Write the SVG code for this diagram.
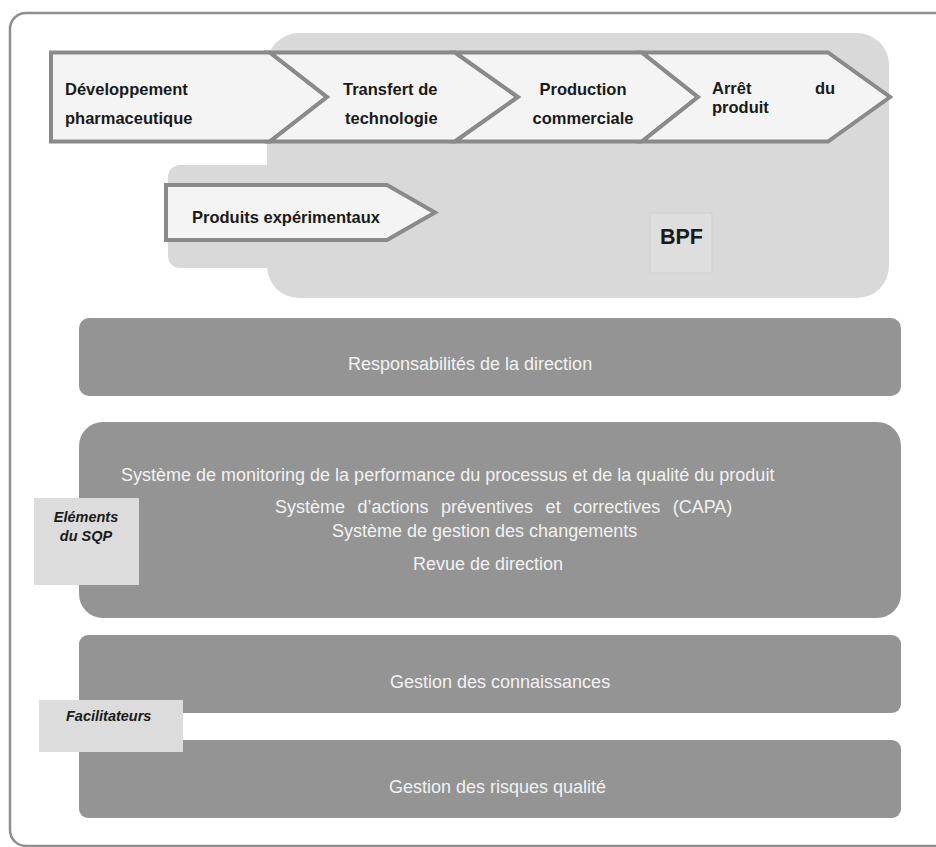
<svg xmlns="http://www.w3.org/2000/svg" width="936" height="847" viewBox="0 0 936 847">
<style>
.frame{fill:#ffffff;stroke:#8e8e8e;stroke-width:2.5}
.zone{fill:#d9d9d9}
.chev{fill:#f4f4f4;stroke:#8a8a8a;stroke-width:4;stroke-linejoin:miter}
.bar{fill:#949494}
.tag{fill:#dcdcdc}
.bt{font-family:"Liberation Sans",Arial,sans-serif;font-weight:bold;font-size:16.5px;fill:#1a1a1a}
.wt{font-family:"Liberation Sans",Arial,sans-serif;font-size:18px;fill:#f2f2f2}
.it{font-family:"Liberation Sans",Arial,sans-serif;font-weight:bold;font-style:italic;font-size:14.5px;fill:#1a1a1a}
</style>
<rect class="frame" x="10" y="13" width="960" height="833" rx="16"/>
<g id="bpf-zone">
<rect class="zone" x="168" y="165" width="160" height="103" rx="12"/>
<rect class="zone" x="267" y="33" width="622" height="265" rx="32"/>
<rect x="650" y="213" width="62" height="60" fill="#dedede" stroke="#cfcfcf" stroke-width="1"/>
<text class="bt" x="660" y="244" style="font-size:21.5px">BPF</text>
</g>
<g id="dev">
<polygon class="chev" points="51,52.5 270,52.5 327,97 270,141.5 51,141.5"/>
<text class="bt" x="65" y="95">Développement</text>
<text class="bt" x="65" y="124">pharmaceutique</text>
</g>
<g id="transfert">
<polygon class="chev" points="270,52.5 455,52.5 518,97 455,141.5 270,141.5 327,97"/>
<text class="bt" x="343" y="95">Transfert de</text>
<text class="bt" x="345" y="124">technologie</text>
</g>
<g id="production">
<polygon class="chev" points="455,52.5 642,52.5 698,97 642,141.5 455,141.5 518,97"/>
<text class="bt" x="583" y="95" text-anchor="middle">Production</text>
<text class="bt" x="583" y="124" text-anchor="middle">commerciale</text>
</g>
<g id="arret">
<polygon class="chev" points="642,52.5 828,52.5 890,97 828,141.5 642,141.5 698,97"/>
<text class="bt" x="712" y="93.5">Arrêt</text>
<text class="bt" x="815" y="93.5">du</text>
<text class="bt" x="712" y="112.5">produit</text>
</g>
<g id="experimentaux">
<polygon class="chev" points="166,185 387,185 435,212.5 387,240 166,240"/>
<text class="bt" x="192" y="223">Produits expérimentaux</text>
</g>
<g id="responsabilites">
<rect class="bar" x="79" y="318" width="822" height="78" rx="10"/>
<text class="wt" x="348" y="370">Responsabilités de la direction</text>
</g>
<g id="elements">
<rect class="bar" x="79" y="422" width="822" height="196" rx="24"/>
<text class="wt" x="121" y="481">Système de monitoring de la performance du processus et de la qualité du produit</text>
<text class="wt" x="275" y="513" word-spacing="7.5">Système d’actions préventives et correctives (CAPA)</text>
<text class="wt" x="332" y="537">Système de gestion des changements</text>
<text class="wt" x="413" y="570">Revue de direction</text>
</g>
<g id="sqp-label">
<rect class="tag" x="34" y="498" width="105" height="87"/>
<text class="it" x="86" y="522" text-anchor="middle">Eléments</text>
<text class="it" x="86" y="541" text-anchor="middle">du SQP</text>
</g>
<g id="connaissances">
<rect class="bar" x="79" y="635" width="822" height="78" rx="9"/>
<text class="wt" x="390" y="688">Gestion des connaissances</text>
</g>
<g id="risques">
<rect class="bar" x="79" y="740" width="822" height="78" rx="9"/>
<text class="wt" x="389" y="793">Gestion des risques qualité</text>
</g>
<g id="facilitateurs">
<rect class="tag" x="39" y="700" width="144" height="52"/>
<text class="it" x="66" y="721">Facilitateurs</text>
</g>
<g id="connectors"></g>
</svg>
